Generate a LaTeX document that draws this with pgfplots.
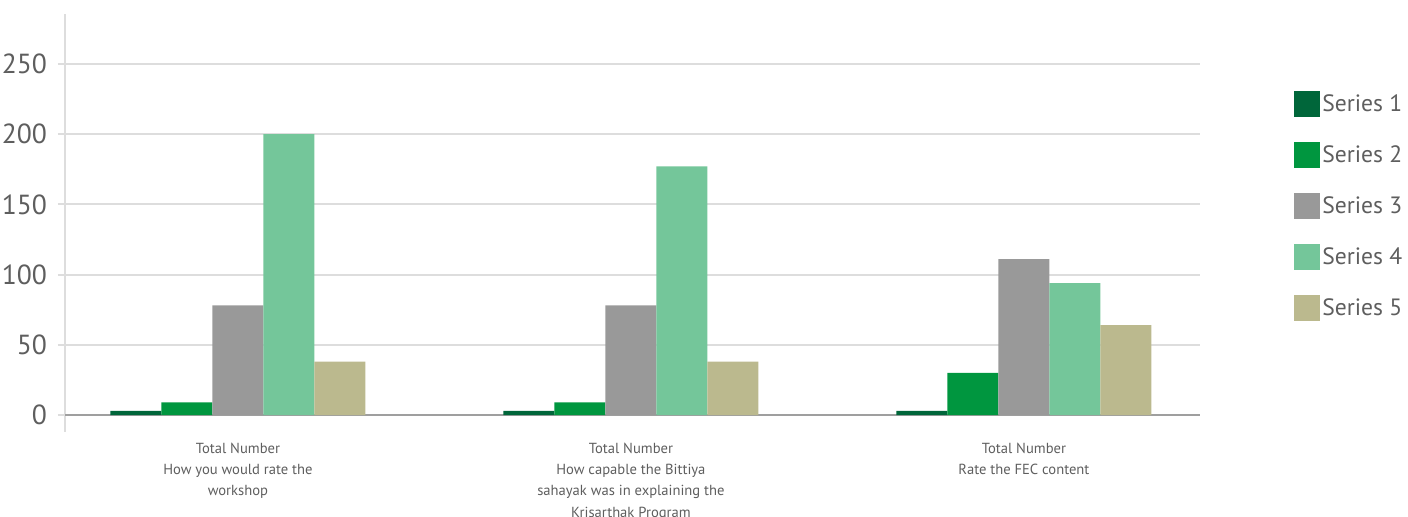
\documentclass[border=0pt]{standalone}
\usepackage{pgfplots}
\pgfplotsset{compat=1.18}
\usepackage{fontspec}
\setmainfont{PT Sans}
\definecolor{s1}{HTML}{00663A}
\definecolor{s2}{HTML}{00963F}
\definecolor{s3}{HTML}{999999}
\definecolor{s4}{HTML}{74C69A}
\definecolor{s5}{HTML}{BBB98E}
\definecolor{txt}{HTML}{5E5E5E}
\definecolor{gridc}{HTML}{DDDDDD}
\begin{document}
\begin{tikzpicture}
\begin{axis}[
  at={(0,0)}, anchor=south west,
  scale only axis,
  width=567.5pt, height=209pt,
  xmin=-0.44, xmax=2.448,
  ymin=-12.1, ymax=285.6,
  ybar=0pt, bar width=25.5pt,
  axis y line*=left, axis x line*=bottom,
  x axis line style={draw=none},
  y axis line style={draw=gridc, line width=0.8pt},
  xtick={0,1,2},
  xticklabels={{Total Number\\How you would rate the\\workshop},
               {Total Number\\How capable the Bittiya\\sahayak was in explaining the\\Krisarthak Program},
               {Total Number\\Rate the FEC content}},
  xticklabel style={align=center, font=\fontsize{7.3}{10.6}\selectfont, text=txt, yshift=1.5pt},
  x tick style={draw=none},
  ytick={50,100,150,200,250},
  extra y ticks={0},
  extra y tick style={grid style={draw=gray!75, line width=1.3pt}},
  ymajorgrids, grid style={draw=gridc, line width=1pt},
  tick align=outside, major tick length=3.5pt,
  y tick style={draw=gridc, line width=1pt},
  yticklabel style={font=\fontsize{13.8}{16}\selectfont, text=txt, xshift=-2pt},
  /pgf/number format/assume math mode=true,
  legend style={at={(1.0775,0.826)}, anchor=north west, draw=none, fill=none,
    font=\fontsize{11.8}{13}\selectfont, text=txt, row sep=12.5pt,
    nodes={inner sep=1pt}},
  legend cell align=left,
  legend image code/.code={\fill[#1] (0pt,-6.5pt) rectangle (13pt,6.5pt);},
]
\addplot[fill=s1, draw=none] coordinates {(0,3) (1,3) (2,3)};
\addplot[fill=s2, draw=none] coordinates {(0,9) (1,9) (2,30)};
\addplot[fill=s3, draw=none] coordinates {(0,78) (1,78) (2,111)};
\addplot[fill=s4, draw=none] coordinates {(0,200) (1,177) (2,94)};
\addplot[fill=s5, draw=none] coordinates {(0,38) (1,38) (2,64)};
\legend{Series 1,Series 2,Series 3,Series 4,Series 5}
\end{axis}
\pgfresetboundingbox
\path[use as bounding box] (-32.5pt,-42.5pt) rectangle (671.5pt,216pt);
\end{tikzpicture}
\end{document}
